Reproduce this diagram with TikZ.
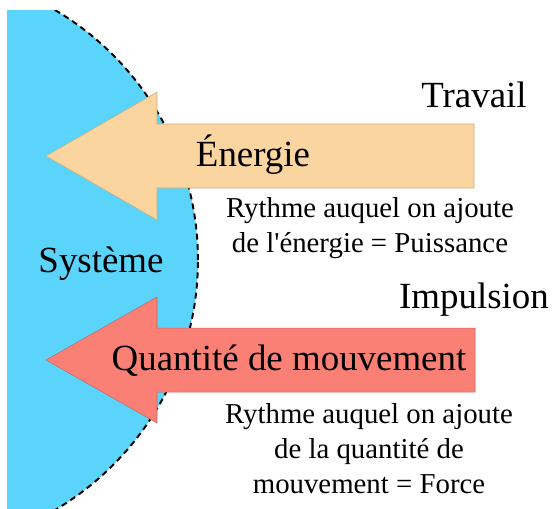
\documentclass[tikz,border=0pt]{standalone}
\usepackage{fontspec}
\setmainfont{Liberation Serif}
\usepackage{tikz}
\usetikzlibrary{positioning}
\usepackage{xcolor}

\definecolor{sysblue}{RGB}{90,212,250}
\definecolor{energypeach}{RGB}{251,213,160}
\definecolor{momsalmon}{RGB}{250,128,118}

\begin{document}
\begin{tikzpicture}[x=0.02cm, y=-0.02cm,
  bigtxt/.style={font=\fontsize{21}{25}\selectfont, anchor=base, inner sep=0pt},
  smalltxt/.style={font=\fontsize{16.4}{19.9}\selectfont, anchor=base, align=center, inner sep=0pt}]

  \useasboundingbox (0,0) rectangle (553,508);

  % Systeme (disc cut by the frame)
  \begin{scope}
    \clip (7,10) rectangle (553,508);
    \fill[sysblue] (-92,260) circle[radius=5.8cm];
    \draw[black, line width=1.1pt, dash pattern=on 3.4pt off 2.4pt] (-92,260) circle[radius=5.8cm];
  \end{scope}
  \node[bigtxt] (systeme) at (101,272) {Système};

  % Energie arrow
  \filldraw[fill=energypeach, draw=energypeach!80!black, line width=0.3pt]
    (46,156) -- (157,92) -- (157,124) -- (474,124) -- (474,188) -- (157,188) -- (157,220) -- cycle;
  \node[bigtxt] (energie) at (253,166) {Énergie};
  \node[bigtxt] (travail) at (474,107) {Travail};
  % base of a multi-line node = its last line
  \node[smalltxt] (puissance) at (370,252) {Rythme auquel on ajoute\\de l\textquotesingle énergie = Puissance};

  % Quantite de mouvement arrow
  \filldraw[fill=momsalmon, draw=momsalmon!80!black, line width=0.3pt]
    (46,360) -- (157,297) -- (157,328) -- (475,328) -- (475,392) -- (157,392) -- (157,423) -- cycle;
  \node[bigtxt] (quantite) at (289,370) {Quantité de mouvement};
  \node[bigtxt] (impulsion) at (474,308) {Impulsion};
  \node[smalltxt] (force) at (369,493) {Rythme auquel on ajoute\\de la quantité de\\mouvement = Force};

\end{tikzpicture}
\end{document}
